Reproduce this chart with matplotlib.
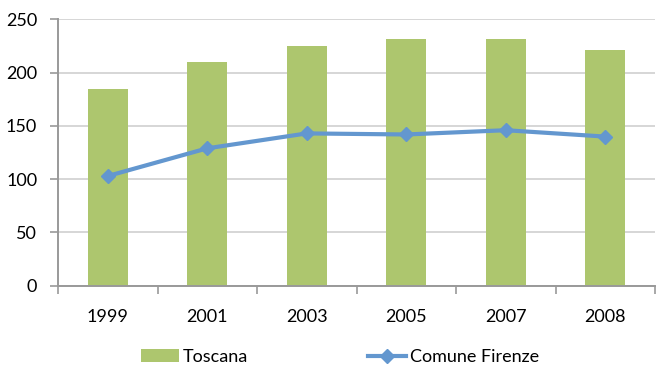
import matplotlib
matplotlib.use("Agg")
import matplotlib.pyplot as plt
import numpy as np

years = ["1999", "2001", "2003", "2005", "2007", "2008"]
toscana = [185, 210, 225, 232, 232, 221]
comune_firenze = [103, 129, 143, 142, 146, 140]

plt.rcParams["font.family"] = ["Lato", "DejaVu Sans"]

fig = plt.figure(figsize=(6.57, 3.67), dpi=100)
ax = fig.add_axes([0.0883, 0.2215, 0.9087, 0.7255])

x = np.arange(len(years))
bars = ax.bar(x, toscana, width=0.4, color="#adc66e", zorder=2, label="Toscana")
line, = ax.plot(x, comune_firenze, color="#6397cf", linewidth=3, marker="D",
                markersize=7, zorder=3, label="Comune Firenze")

ax.set_xlim(-0.5, len(years) - 0.5)
ax.set_ylim(0, 250)
ax.set_yticks(range(0, 251, 50))
ax.yaxis.grid(True, color="#d0d0d0", linewidth=1.2, zorder=0)

# year labels under the bars, tick marks between categories
ax.set_xticks(x)
ax.set_xticklabels(years)
ax.set_xticks(np.arange(-0.5, len(years), 1.0), minor=True)
ax.tick_params(axis="x", which="major", length=0, pad=17, labelsize=13)
ax.tick_params(axis="x", which="minor", length=6, width=1.2, color="#999999")
ax.tick_params(axis="y", length=6, width=1.2, color="#999999", pad=9, labelsize=13)

for side in ("top", "right"):
    ax.spines[side].set_visible(False)
for side in ("left", "bottom"):
    ax.spines[side].set_color("#999999")
    ax.spines[side].set_linewidth(1.4)

fig.legend(handles=[bars, line], loc="center", bbox_to_anchor=(0.5175, 0.027),
           ncol=2, frameon=False, fontsize=13, columnspacing=6.6,
           handlelength=2.1, handletextpad=0.25)

fig.savefig("out.png", dpi=100)
